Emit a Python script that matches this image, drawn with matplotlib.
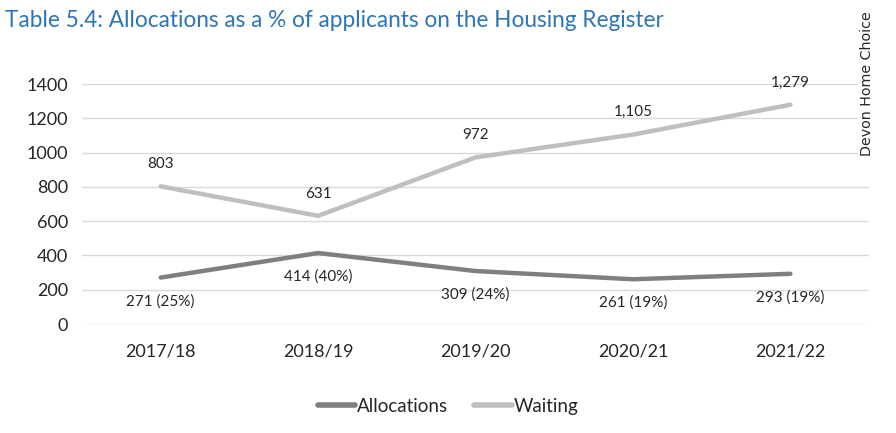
import matplotlib
matplotlib.use("Agg")
import matplotlib.pyplot as plt

years = ["2017/18", "2018/19", "2019/20", "2020/21", "2021/22"]
allocations = [271, 414, 309, 261, 293]
alloc_pct = [25, 40, 24, 19, 19]
waiting = [803, 631, 972, 1105, 1279]
yticks = [0, 200, 400, 600, 800, 1000, 1200, 1400]

plt.rcParams['font.family'] = ['Lato', 'DejaVu Sans']

fig = plt.figure(figsize=(8.96, 4.33), dpi=100)
ax = fig.add_axes([0.0915, 0.2517, 0.8785, 0.5543])

x = list(range(len(years)))
ax.plot(x, allocations, color='#7f7f7f', lw=3.2, label='Allocations', solid_capstyle='round')
ax.plot(x, waiting, color='#bfbfbf', lw=3.2, label='Waiting', solid_capstyle='round')

for xi, v, p in zip(x, allocations, alloc_pct):
    ax.annotate(f"{v} ({p}%)", (xi, v), xytext=(0, -17), textcoords='offset points',
                ha='center', va='center', fontsize=11, color='#262626')
for xi, v in zip(x, waiting):
    ax.annotate(f"{v:,}", (xi, v), xytext=(0, 16), textcoords='offset points',
                ha='center', va='center', fontsize=11, color='#262626')

ax.set_xlim(-0.5, len(years) - 0.5)
ax.set_ylim(0, 1400)
ax.set_yticks(yticks)
ax.set_xticks(x)
ax.set_xticklabels(years)
ax.tick_params(axis='both', length=0, labelsize=13, colors='#262626')
ax.tick_params(axis='x', pad=14)
ax.tick_params(axis='y', pad=10)
ax.grid(axis='y', color='#d9d9d9', lw=1)
ax.set_axisbelow(True)
for s in ax.spines.values():
    s.set_visible(False)

fig.text(0.006, 0.953, "Table 5.4: Allocations as a % of applicants on the Housing Register",
         fontsize=16.3, color='#2e75b6', ha='left', va='center')
fig.text(0.968, 0.975, "Devon Home Choice", rotation=90, fontsize=10.3, color='#262626',
         ha='center', va='top', family='DejaVu Sans',
         bbox=dict(facecolor='white', edgecolor='none', pad=2))

leg = fig.legend(loc='center', bbox_to_anchor=(0.5, 0.062), ncol=2, frameon=False,
                 fontsize=13.5, handlelength=2.0, handletextpad=0.1, columnspacing=1.4)
for line in leg.get_lines():
    line.set_linewidth(4)
for t in leg.get_texts():
    t.set_color('#262626')

fig.savefig("out.png", dpi=100)
